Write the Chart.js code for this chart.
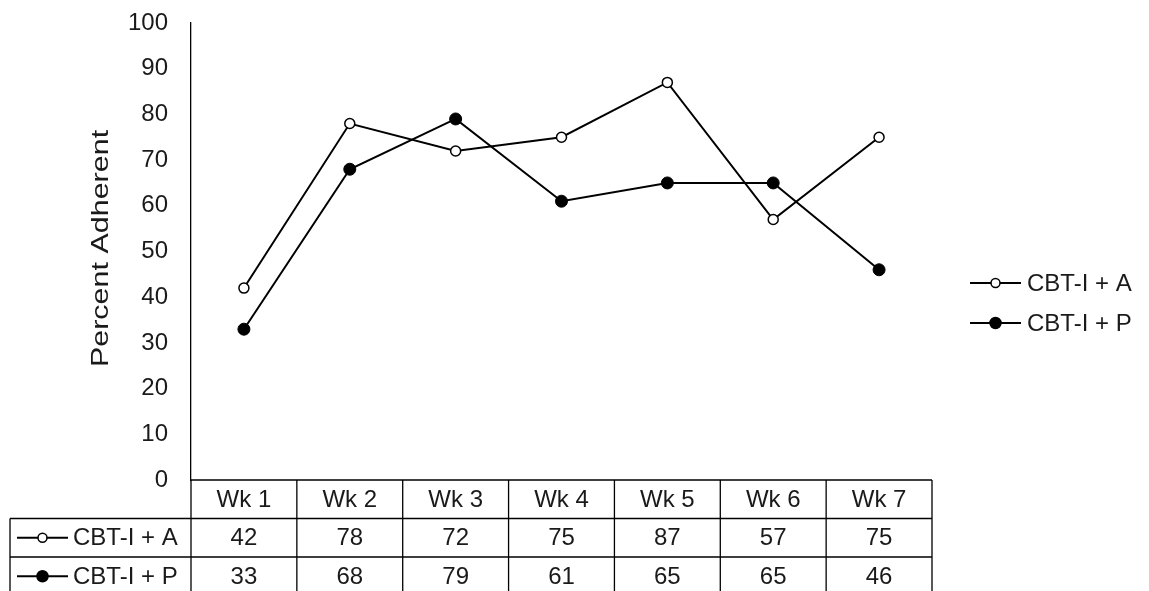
<!DOCTYPE html>
<html>
<head>
<meta charset="utf-8">
<script src="https://cdn.jsdelivr.net/npm/chart.js@4/dist/chart.umd.min.js"></script>
<style>
  html, body { margin: 0; padding: 0; background: #fff; }
  canvas { display: block; }
</style>
</head>
<body>
<canvas id="chart" width="1149" height="591"></canvas>
<script>
// Weekly adherence by treatment group
const weeks = ['Wk 1', 'Wk 2', 'Wk 3', 'Wk 4', 'Wk 5', 'Wk 6', 'Wk 7'];
const seriesNames = ['CBT-I + A', 'CBT-I + P'];
const cbtA = [42, 78, 72, 75, 87, 57, 75];
const cbtP = [33, 68, 79, 61, 65, 65, 46];
const yTicks = [0, 10, 20, 30, 40, 50, 60, 70, 80, 90, 100];
const yTitle = 'Percent Adherent';

const FONT = '"Liberation Sans", Arial, sans-serif';
const INK = '#1a1a1a';
const FONT_SIZE = 24;

// Draws a small "line + marker" key like the series style
function drawKey(ctx, x1, x2, y, filled) {
  ctx.save();
  ctx.strokeStyle = '#000';
  ctx.lineWidth = 2;
  ctx.beginPath();
  ctx.moveTo(x1, y);
  ctx.lineTo(x2, y);
  ctx.stroke();
  const cx = (x1 + x2) / 2;
  ctx.beginPath();
  ctx.arc(cx, y, filled ? 5.5 : 4.5, 0, Math.PI * 2);
  ctx.fillStyle = filled ? '#000' : '#fff';
  ctx.fill();
  ctx.lineWidth = 1.5;
  ctx.stroke();
  ctx.restore();
}

// Rotated axis title, stretched a little along its reading direction
const axisTitlePlugin = {
  id: 'axisTitle',
  afterDraw(chart) {
    const ctx = chart.ctx;
    const area = chart.chartArea;
    ctx.save();
    ctx.translate(101, (area.top + area.bottom) / 2 - 3);
    ctx.rotate(-Math.PI / 2);
    ctx.scale(1.27, 1);
    ctx.fillStyle = INK;
    ctx.font = FONT_SIZE + 'px ' + FONT;
    ctx.textAlign = 'center';
    ctx.textBaseline = 'middle';
    ctx.fillText(yTitle, 0, 0);
    ctx.restore();
  }
};

// Data table under the plot plus the side legend
const tablePlugin = {
  id: 'dataTable',
  afterDraw(chart) {
    const ctx = chart.ctx;
    const xs = chart.scales.x;
    const area = chart.chartArea;
    const n = weeks.length;
    const colW = (area.right - area.left) / n;
    const rowH = 38.5;
    const top = area.bottom;
    const tableLeft = 10;
    const rows = [top, top + rowH, top + 2 * rowH, top + 3 * rowH];
    const seriesData = [cbtA, cbtP];

    ctx.save();
    ctx.strokeStyle = '#000';
    ctx.lineWidth = 1.3;

    // horizontal rules
    ctx.beginPath();
    ctx.moveTo(area.left, rows[0]); ctx.lineTo(area.right, rows[0]);
    for (let r = 1; r < rows.length; r++) {
      ctx.moveTo(tableLeft, rows[r]); ctx.lineTo(area.right, rows[r]);
    }
    // vertical rules
    ctx.moveTo(tableLeft, rows[1]); ctx.lineTo(tableLeft, rows[3]);
    for (let i = 0; i <= n; i++) {
      const x = area.left + i * colW;
      ctx.moveTo(x, rows[0]); ctx.lineTo(x, rows[3]);
    }
    ctx.stroke();

    ctx.fillStyle = INK;
    ctx.font = FONT_SIZE + 'px ' + FONT;
    ctx.textAlign = 'center';
    ctx.textBaseline = 'middle';
    weeks.forEach((w, i) => {
      const cx = xs.getPixelForValue(i);
      ctx.fillText(w, cx, rows[0] + rowH / 2 + 1);
      seriesData.forEach((d, s) => {
        ctx.fillText(String(d[i]), cx, rows[1 + s] + rowH / 2 + 1);
      });
    });

    // row headers
    seriesNames.forEach((name, s) => {
      const cy = rows[1 + s] + rowH / 2;
      drawKey(ctx, 17, 68, cy, s === 1);
      ctx.fillStyle = INK;
      ctx.textAlign = 'left';
      ctx.fillText(name, 73, cy + 1);
    });

    // side legend
    const legY = [283, 323];
    seriesNames.forEach((name, s) => {
      drawKey(ctx, 970, 1021, legY[s], s === 1);
      ctx.fillStyle = INK;
      ctx.textAlign = 'left';
      ctx.fillText(name, 1027, legY[s] + 1);
    });
    ctx.restore();
  }
};

new Chart(document.getElementById('chart'), {
  type: 'line',
  data: {
    labels: weeks,
    datasets: [
      {
        label: seriesNames[0],
        data: cbtA,
        borderColor: '#000',
        borderWidth: 2,
        pointRadius: 5,
        pointBackgroundColor: '#fff',
        pointBorderColor: '#000',
        pointBorderWidth: 1.5,
        tension: 0
      },
      {
        label: seriesNames[1],
        data: cbtP,
        borderColor: '#000',
        borderWidth: 2,
        pointRadius: 6,
        pointBackgroundColor: '#000',
        pointBorderColor: '#000',
        pointBorderWidth: 1,
        tension: 0
      }
    ]
  },
  options: {
    responsive: false,
    animation: false,
    layout: { padding: { left: 0, top: 23, right: 217, bottom: 111 } },
    plugins: {
      legend: { display: false },
      tooltip: { enabled: false }
    },
    scales: {
      x: {
        display: false,
        offset: true
      },
      y: {
        min: 0,
        max: 100,
        afterBuildTicks(scale) {
          scale.ticks = yTicks.map(v => ({ value: v }));
        },
        afterFit(scale) {
          scale.width = 191;
          scale.paddingTop = 0;
          scale.paddingBottom = 0;
        },
        grid: { display: false, drawTicks: false },
        border: { display: true, color: '#000', width: 1.3 },
        ticks: {
          padding: 23,
          color: INK,
          font: { family: FONT, size: FONT_SIZE }
        },
        title: { display: false }
      }
    }
  },
  plugins: [tablePlugin, axisTitlePlugin]
});
</script>
</body>
</html>
